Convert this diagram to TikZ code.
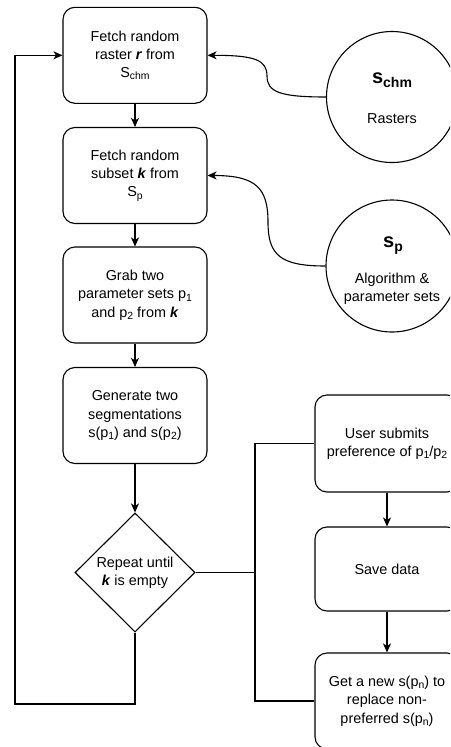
\documentclass[tikz,border=0pt]{standalone}
\usepackage{fontspec}
\setmainfont{Liberation Sans}
\usetikzlibrary{shapes.geometric,arrows.meta}
% lowered, smaller subscript text
\newcommand{\lo}[1]{\raisebox{-0.16em}{\fontsize{10.4}{10.4}\selectfont #1}}
\newcommand{\bi}[1]{\textbf{\textit{#1}}}
\begin{document}
\begin{tikzpicture}[x=1pt,y=-1pt,
  every node/.style={font=\fontsize{14.4}{18.3}\selectfont, align=center, inner sep=0pt},
  stepbox/.style={draw, rounded corners=12pt, minimum width=144pt, minimum height=96pt, line width=1.1pt},
  store/.style={draw, circle, minimum size=131pt, line width=1.1pt},
  decide/.style={draw, diamond, minimum width=120pt, minimum height=119pt, line width=1.1pt},
  storetitle/.style={font=\bfseries\fontsize{20}{20}\selectfont},
  link/.style={line width=1.1pt},
  flow/.style={link, -{Stealth[length=9pt,width=8pt,inset=2.5pt]}},
]
\useasboundingbox (0,0) rectangle (450,747);
\clip (0,0) rectangle (450,747);

% main flow
\node[stepbox] (fetchR) at (135,55.3) {Fetch random\\raster \bi{r} from\\S\lo{chm}};
\node[stepbox] (fetchK) at (135,175.5) {Fetch random\\subset \bi{k} from\\S\lo{p}};
\node[stepbox] (grab) at (135,295) {Grab two\\parameter sets p\lo{1}\\and p\lo{2} from \bi{k}};
\node[stepbox] (gen) at (135,415.5) {Generate two\\segmentations\\s(p\lo{1}) and s(p\lo{2})};
\node[decide] (rep) at (135,572.5) {Repeat until\\\bi{k} is empty};

% user side
\node[stepbox, minimum height=97pt] (user) at (387,443.5) {User submits\\preference of p\lo{1}/p\lo{2}};
\node[stepbox, minimum height=84pt] (save) at (387,569) {Save data};
\node[stepbox] (newS) at (387,701) {Get a new s(p\lo{n}) to\\replace non-\\preferred s(p\lo{n})};

% data stores
\node[store] (schm) at (392,97) {};
\node[storetitle] (schmT) at (392,80) {s\raisebox{-4pt}{\fontsize{14}{14}\selectfont chm}};
\node (schmL) at (392,118.3) {Rasters};
\node[store, minimum size=132pt] (sp) at (392,266) {};
\node[storetitle] (spT) at (393,246) {s\raisebox{-4pt}{\fontsize{14}{14}\selectfont p}};
\node (spL) at (392,288.5) {Algorithm \&\\parameter sets};

% connectors
\draw[flow] (fetchR.south) -- (fetchK.north);
\draw[flow] (fetchK.south) -- (grab.north);
\draw[flow] (grab.south) -- (gen.north);
\draw[flow] (gen.south) -- (rep.north);
\draw[flow] (user.south) -- (save.north);
\draw[flow] (save.south) -- (newS.north);

\draw[flow] (schm.west) .. controls (280,97) and (267,92) .. (267,76)
  .. controls (267,60) and (255,55.3) .. (fetchR.east);
\draw[flow] (sp.west) .. controls (280,266) and (268,255) .. (268,222)
  .. controls (268,188) and (256,175.5) .. (fetchK.east);

\coordinate (loopBR) at (135,704);
\coordinate (loopBL) at (15,704);
\draw[flow] (rep.south) -- (loopBR) -- (loopBL) |- (fetchR.west);

\coordinate (fork) at (255,572.5);
\draw[link] (rep.east) -- (fork) |- (user.west);
\draw[link] (fork) |- (newS.west);
\end{tikzpicture}
\end{document}
